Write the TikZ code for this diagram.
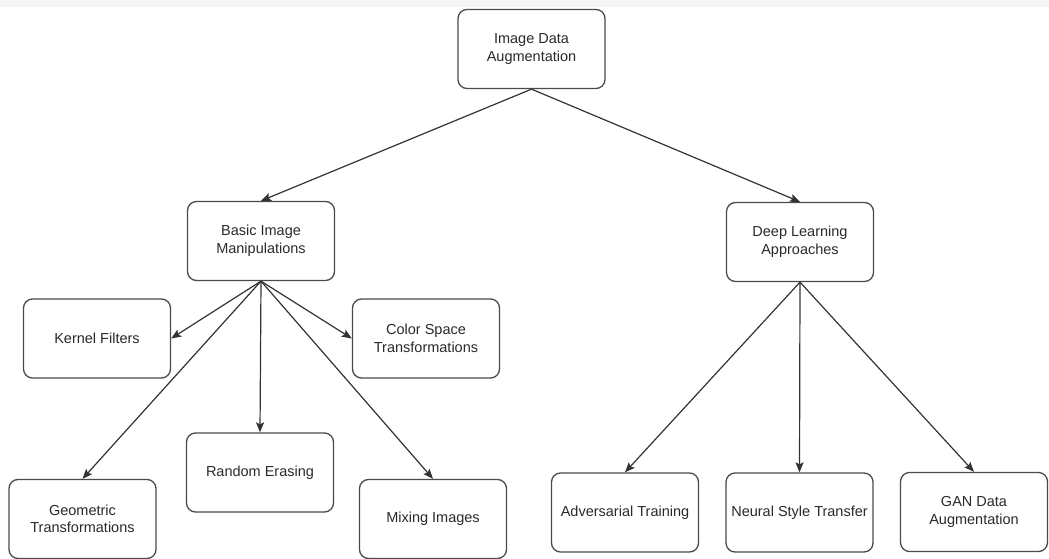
\documentclass[tikz,border=0pt]{standalone}
\usepackage{fontspec}
\setmainfont{Liberation Sans}
\usetikzlibrary{arrows.meta}
\definecolor{boxline}{HTML}{4A4A4A}
\definecolor{txt}{HTML}{2A2A2A}
\definecolor{arr}{HTML}{333333}
\tikzset{
  box/.style={draw=boxline, line width=1.3pt, rounded corners=9pt,
    minimum width=147pt, minimum height=79pt, align=center, text=txt,
    inner sep=2pt, font=\fontsize{14.5}{17.5}\selectfont},
  link/.style={draw=arr, line width=1.2pt, -{Stealth[length=10pt,width=8pt,inset=2pt]}}
}
\begin{document}
\begin{tikzpicture}[x=1pt,y=-1pt]
\useasboundingbox (0,0) rectangle (1049,559);
\fill[white] (0,0) rectangle (1049,559);
\fill[black!4] (0,0) rectangle (1049,7);
\node[box] (top) at (531.5,49) {Image Data\\Augmentation};
\node[box] (basic) at (261,241) {Basic Image\\Manipulations};
\node[box] (deep) at (800,242) {Deep Learning\\Approaches};
\node[box] (kernel) at (97,338.5) {Kernel Filters};
\node[box] (color) at (426,338.5) {Color Space\\Transformations};
\node[box] (random) at (260,472.5) {Random Erasing};
\node[box] (geo) at (82.5,519) {Geometric\\Transformations};
\node[box] (mixing) at (433,519) {Mixing Images};
\node[box] (adv) at (625,512.5) {Adversarial Training};
\node[box] (neural) at (799.5,512.5) {Neural Style Transfer};
\node[box] (gan) at (974,512) {GAN Data\\Augmentation};
\draw[link] (top.south) -- (basic.north);
\draw[link] (top.south) -- (deep.north);
\draw[link] (basic.south) -- (kernel.east);
\draw[link] (basic.south) -- (color.west);
\draw[link] (basic.south) -- (random.north);
\draw[link] (basic.south) -- (geo.north);
\draw[link] (basic.south) -- (mixing.north);
\draw[link] (deep.south) -- (adv.north);
\draw[link] (deep.south) -- (neural.north);
\draw[link] (deep.south) -- (gan.north);
\end{tikzpicture}
\end{document}
